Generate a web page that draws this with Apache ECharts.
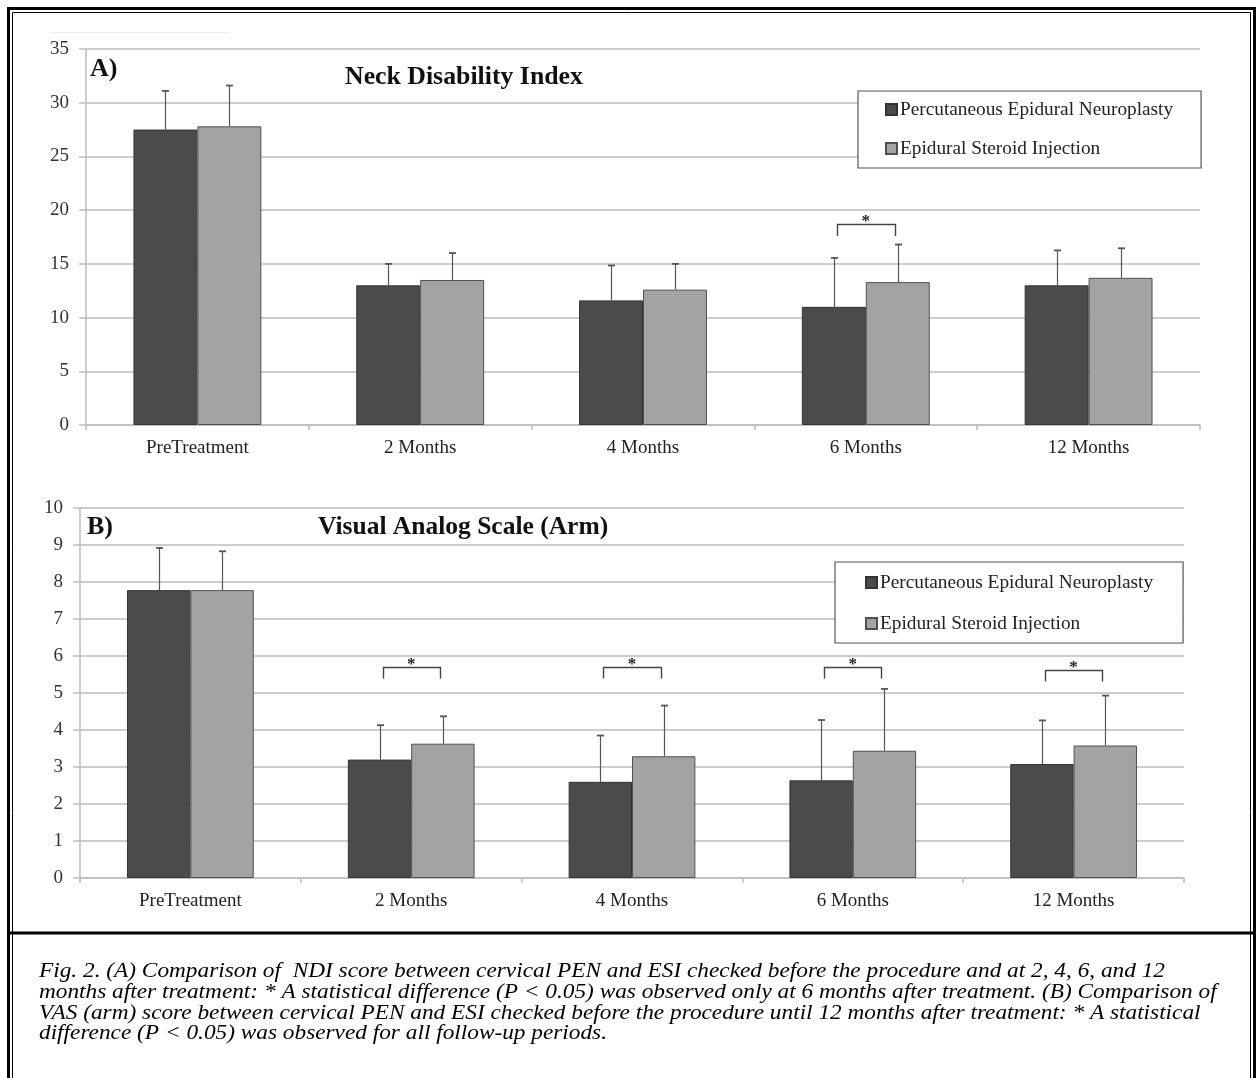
<!DOCTYPE html>
<html><head><meta charset="utf-8">
<script src="https://cdn.jsdelivr.net/npm/echarts@6/dist/echarts.min.js"></script>
<style>html,body{margin:0;padding:0;background:#fff}#c{width:1257px;height:1078px}</style>
</head><body><div id="c"></div>
<script>
// ---------- data ----------
const categories = ['PreTreatment', '2 Months', '4 Months', '6 Months', '12 Months'];
const seriesNames = ['Percutaneous Epidural Neuroplasty', 'Epidural Steroid Injection'];

const ndiPen   = [27.5, 13.0, 11.6, 11.0, 13.0];
const ndiPenSd = [3.6, 2.0, 3.25, 4.55, 3.25];
const ndiEsi   = [27.8, 13.5, 12.6, 13.3, 13.7];
const ndiEsiSd = [3.8, 2.5, 2.4, 3.5, 2.75];

const vasPen   = [7.78, 3.2, 2.6, 2.64, 3.08];
const vasPenSd = [1.14, 0.93, 1.25, 1.63, 1.18];
const vasEsi   = [7.78, 3.63, 3.29, 3.44, 3.58];
const vasEsiSd = [1.05, 0.74, 1.37, 1.67, 1.35];

const ndiAxis = { min: 0, max: 35, interval: 5 };
const vasAxis = { min: 0, max: 10, interval: 1 };

// significance brackets: [category, bracket top, leg bottom]
const ndiSig = [['6 Months', 18.7, 17.6]];
const vasSig = [['2 Months', 5.69, 5.39], ['4 Months', 5.69, 5.39], ['6 Months', 5.69, 5.39], ['12 Months', 5.61, 5.31]];

const titleA = 'Neck Disability Index';
const titleB = 'Visual Analog Scale (Arm)';
const captionLines = [
  'Fig. 2. (A) Comparison of  NDI score between cervical PEN and ESI checked before the procedure and at 2, 4, 6, and 12',
  'months after treatment: * A statistical difference (P < 0.05) was observed only at 6 months after treatment. (B) Comparison of',
  'VAS (arm) score between cervical PEN and ESI checked before the procedure until 12 months after treatment: * A statistical',
  'difference (P < 0.05) was observed for all follow-up periods.'
];

// ---------- styling ----------
const SERIF = '"Liberation Serif", "Times New Roman", serif';
const DARK = '#4b4b4b', LIGHT = '#a3a3a3';
const GRIDC = '#bdbdbd';
const CAT_GAP = 0.426;
const CAP_PX = 21;

function measure(text, font) {
  const ctx = document.createElement('canvas').getContext('2d');
  ctx.font = font;
  return ctx.measureText(text).width;
}
const capFont = 'italic ' + CAP_PX + 'px ' + SERIF;
const capScale = 1126 / measure(captionLines[0], capFont);

function errRender(side) {
  return function (params, api) {
    const ci = api.value(0), m = api.value(1), sd = api.value(2);
    const base = api.coord([ci, m]);
    const top = api.coord([ci, m + sd]);
    const catW = api.size([1, 0])[0];
    const barW = catW * (1 - CAT_GAP) / 2;
    const x = Math.round(base[0] + side * barW / 2) + 0.5;
    return {
      type: 'group', children: [
        { type: 'line', shape: { x1: x, y1: base[1], x2: x, y2: top[1] }, style: { stroke: '#555', lineWidth: 1.2 } },
        { type: 'line', shape: { x1: x - 3.5, y1: top[1], x2: x + 3.5, y2: top[1] }, style: { stroke: '#555', lineWidth: 1.8 } }
      ]
    };
  };
}
function sigRender(params, api) {
  const ci = api.value(0), yt = api.value(1), yb = api.value(2);
  const pTop = api.coord([ci, yt]);
  const pBot = api.coord([ci, yb]);
  const catW = api.size([1, 0])[0];
  const barW = catW * (1 - CAT_GAP) / 2;
  const xl = Math.round(pTop[0] - barW * 0.45) + 0.5, xr = Math.round(pTop[0] + barW * 0.45) + 0.5;
  const y0 = Math.round(pTop[1]) + 0.5, y1 = pBot[1];
  return {
    type: 'group', children: [
      { type: 'polyline', shape: { points: [[xl, y1], [xl, y0], [xr, y0], [xr, y1]] }, style: { stroke: '#444', lineWidth: 1.4, fill: null } },
      { type: 'text', style: { text: '*', x: pTop[0], y: y0 - 3, align: 'center', verticalAlign: 'middle', font: 'bold 17px ' + SERIF, fill: '#222' } }
    ]
  };
}

function yAxisDef(gi, ax) {
  return {
    type: 'value', gridIndex: gi, min: ax.min, max: ax.max, interval: ax.interval,
    axisLine: { show: true, lineStyle: { color: GRIDC, width: 1.5 } },
    axisTick: { show: true, length: 7, lineStyle: { color: GRIDC, width: 1.5 } },
    axisLabel: { margin: 17, fontFamily: SERIF, fontSize: 19, color: '#333' },
    splitLine: { lineStyle: { color: GRIDC, width: 1.5 } }
  };
}
function xAxisDef(gi) {
  return {
    type: 'category', gridIndex: gi, data: categories,
    axisLine: { show: true, lineStyle: { color: GRIDC, width: 1.5 } },
    axisTick: { show: true, length: 5, lineStyle: { color: GRIDC, width: 1.5 } },
    axisLabel: { margin: 14, fontFamily: SERIF, fontSize: 19, color: '#222' }
  };
}
function barDef(gi, name, data, color, border) {
  return {
    type: 'bar', name: name, xAxisIndex: gi, yAxisIndex: gi, data: data,
    barGap: '0%', barCategoryGap: (CAT_GAP * 100) + '%',
    itemStyle: { color: color, borderColor: border, borderWidth: 1 },
    emphasis: { disabled: true }, z: 2
  };
}
function errDef(gi, means, sds, side) {
  return {
    type: 'custom', xAxisIndex: gi, yAxisIndex: gi, z: 5, silent: true,
    data: means.map((m, i) => [i, m, sds[i]]),
    encode: { x: 0, y: 1 },
    renderItem: errRender(side)
  };
}
function sigDef(gi, sig) {
  return {
    type: 'custom', xAxisIndex: gi, yAxisIndex: gi, z: 6, silent: true,
    data: sig.map(s => [categories.indexOf(s[0]), s[1], s[2]]),
    encode: { x: 0, y: 1 },
    renderItem: sigRender
  };
}
function legendDef(left, top, padding, gap) {
  return {
    left: left, top: top, orient: 'vertical', data: seriesNames,
    icon: 'rect', itemWidth: 11, itemHeight: 11, itemGap: gap,
    padding: padding, borderColor: '#555', borderWidth: 1.2, backgroundColor: '#fff',
    selectedMode: false,
    textStyle: { fontFamily: SERIF, fontSize: 19.3, color: '#222', lineHeight: 19, padding: [0, 0, 0, -2] }
  };
}

const graphics = [
  // outer frame
  { type: 'rect', shape: { x: 8.5, y: 8.5, width: 1246, height: 1090 }, style: { fill: null, stroke: '#000', lineWidth: 3 }, z: 100 },
  { type: 'rect', shape: { x: 12.5, y: 12.5, width: 1238, height: 1090 }, style: { fill: null, stroke: '#000', lineWidth: 1 }, z: 100 },
  { type: 'line', shape: { x1: 8, y1: 933, x2: 1256, y2: 933 }, style: { stroke: '#000', lineWidth: 3 }, z: 100 },
  { type: 'line', shape: { x1: 50, y1: 32.5, x2: 230, y2: 32.5 }, style: { stroke: '#ececec', lineWidth: 1 }, z: 1 },
  // titles
  { type: 'text', style: { text: 'A)', x: 90, y: 69, verticalAlign: 'middle', font: 'bold 26px ' + SERIF, fill: '#111' }, z: 50 },
  { type: 'text', style: { text: titleA, x: 345, y: 77, verticalAlign: 'middle', font: 'bold 25.8px ' + SERIF, fill: '#111' }, z: 50 },
  { type: 'text', style: { text: 'B)', x: 87, y: 527, verticalAlign: 'middle', font: 'bold 26px ' + SERIF, fill: '#111' }, z: 50 },
  { type: 'text', style: { text: titleB, x: 318, y: 527, verticalAlign: 'middle', font: 'bold 25.5px ' + SERIF, fill: '#111' }, z: 50 }
];
const capY = [971.5, 992.5, 1013, 1033.5];
captionLines.forEach((t, i) => graphics.push({
  type: 'text', x: 39, y: capY[i], scaleX: capScale, scaleY: 1,
  style: { text: t, x: 0, y: 0, verticalAlign: 'middle', font: capFont, fill: '#000' }, z: 50
}));

const option = {
  animation: false,
  backgroundColor: '#fff',
  grid: [
    { left: 86, top: 49, width: 1114, height: 376 },
    { left: 80, top: 508, width: 1104, height: 370 }
  ],
  xAxis: [xAxisDef(0), xAxisDef(1)],
  yAxis: [yAxisDef(0, ndiAxis), yAxisDef(1, vasAxis)],
  legend: [
    legendDef(858, 91, [9, 28, 10, 27], 20),
    legendDef(835, 562, [11, 30, 10, 30], 22)
  ],
  series: [
    barDef(0, seriesNames[0], ndiPen, DARK, '#333'),
    barDef(0, seriesNames[1], ndiEsi, LIGHT, '#505050'),
    errDef(0, ndiPen, ndiPenSd, -1),
    errDef(0, ndiEsi, ndiEsiSd, 1),
    sigDef(0, ndiSig),
    barDef(1, seriesNames[0], vasPen, DARK, '#333'),
    barDef(1, seriesNames[1], vasEsi, LIGHT, '#505050'),
    errDef(1, vasPen, vasPenSd, -1),
    errDef(1, vasEsi, vasEsiSd, 1),
    sigDef(1, vasSig)
  ],
  graphic: graphics
};
const chart = echarts.init(document.getElementById('c'), null, { renderer: 'canvas' });
chart.setOption(option);
</script>
</body></html>
